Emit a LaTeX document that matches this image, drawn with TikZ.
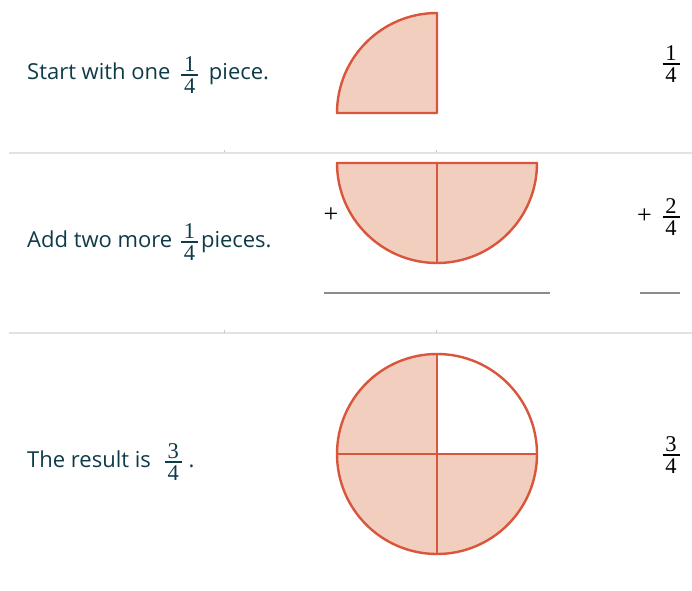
\documentclass[tikz,border=0pt]{standalone}
\usepackage{fontspec}
\setmainfont{Open Sans}
\newfontfamily\fracserif{Liberation Serif}
\definecolor{txt}{HTML}{0E3B48}
\definecolor{edge}{HTML}{D9553C}
\definecolor{piece}{HTML}{F2CEBF}
\definecolor{sepc}{HTML}{E2E2E2}
\definecolor{tickc}{HTML}{C8C8C8}
\definecolor{rulec}{HTML}{8C8C8C}
\newcommand\fdigit[1]{{\fontsize{22.5}{22}\fracserif\selectfont #1}}
\newcommand\fr[2]{\leavevmode\hbox{\kern3pt\raise5pt\hbox{%
  \rlap{\raise3.5pt\hbox to 17pt{\hss\fdigit{#1}\hss}}%
  \rlap{\vrule width 17pt height 0.6pt depth 0.6pt}%
  \lower18.8pt\hbox to 17pt{\hss\fdigit{#2}\hss}}\kern3pt}}
\begin{document}
\begin{tikzpicture}[x=1pt,y=1pt,
  lbl/.style={anchor=base west,inner sep=0pt,text=txt,font=\fontsize{22}{26}\selectfont},
  rfrac/.style={anchor=base,inner sep=0pt,text=black},
  plus/.style={anchor=center,inner sep=0pt,text=black,font=\fontsize{26}{26}\fracserif\selectfont},
  piecefill/.style={draw=edge,fill=piece,line width=2.4pt,line join=round},
  inner/.style={draw=edge,line width=2pt},
  sepline/.style={draw=sepc,line width=2.2pt},
  tickline/.style={draw=tickc,line width=0.8pt},
  sumline/.style={draw=rulec,line width=1.8pt}]
\useasboundingbox (0,0) rectangle (692,590);
% separators
\draw[sepline] (9,437) -- (692,437);
\draw[sepline] (9,257) -- (692,257);
\foreach \xx in {224,436} {
  \draw[tickline] (\xx,437.5) -- (\xx,440);
  \draw[tickline] (\xx,257.5) -- (\xx,260);
}
% row 1
\node[lbl] (t1) at (27,510) {Start with one\hspace{2pt} \fr{1}{4}\hspace{2pt} piece.};
\filldraw[piecefill] (337,477) arc[start angle=180,end angle=90,radius=100] -- (437,477) -- cycle;
\node[rfrac] (r1) at (671,521) {\fr{1}{4}};
% row 2
\node[lbl] (t2) at (27,343) {Add two more \fr{1}{4}pieces.};
\node[plus] (p1) at (331,375) {+};
\filldraw[piecefill] (337,427) arc[start angle=180,end angle=360,radius=100] -- cycle;
\draw[inner] (437,427) -- (437,327);
\node[plus] (p2) at (644.5,374) {+};
\node[rfrac] (r2) at (671,368) {\fr{2}{4}};
\coordinate (u1a) at (324,297);
\coordinate (u1b) at (550,297);
\coordinate (u2a) at (640,297);
\coordinate (u2b) at (680,297);
\draw[sumline] (u1a) -- (u1b);
\draw[sumline] (u2a) -- (u2b);
% row 3
\node[lbl] (t3) at (27,123) {The result is\hspace{5pt} \fr{3}{4}\hspace{4pt}.};
\fill[piece] (437,136) -- (437,236) arc[start angle=90,end angle=360,radius=100] -- cycle;
\draw[edge,line width=2.4pt] (437,136) circle[radius=100];
\draw[inner] (437,236) -- (437,36);
\draw[inner] (337,136) -- (537,136);
\node[rfrac] (r3) at (671,130) {\fr{3}{4}};
\end{tikzpicture}
\end{document}
